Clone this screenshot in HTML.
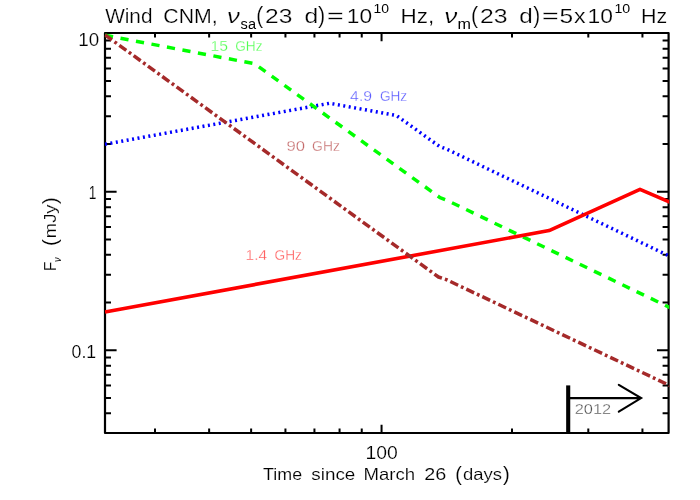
<!DOCTYPE html>
<html lang="en"><head><meta charset="utf-8"><title>Wind CNM light curves</title>
<style>
html,body{margin:0;padding:0;background:#fff;}
body{width:700px;height:500px;overflow:hidden;font-family:"Liberation Sans",sans-serif;}
svg{display:block;will-change:transform;}
text{font-family:"Liberation Sans",sans-serif;}
.k{fill:#000;}
.t{fill:#000;}
.s{fill:#000;}
.lg{fill:#50ff50;}
.lb{fill:#5a5aff;}
.lbr{fill:#c46a6a;}
.lr{fill:#ff5a5a;}
.lk{fill:#505050;}
</style></head><body>
<svg width="700" height="500" viewBox="0 0 700 500">
<defs>
<filter id="nf" filterUnits="userSpaceOnUse" x="0" y="0" width="700" height="500"><feOffset dx="0" dy="0"/></filter>
<clipPath id="cp"><rect x="104.6" y="32" width="564.6" height="402"/></clipPath>
</defs>
<rect x="0" y="0" width="700" height="500" fill="#fff"/>
<rect x="105.00" y="33.00" width="563.60" height="400.00" fill="none" stroke="#000" stroke-width="2.2" stroke-linejoin="round"/>
<path d="M155.00,433.00v-4.40M155.00,33.00v4.40M209.14,433.00v-4.40M209.14,33.00v4.40M251.13,433.00v-4.40M251.13,33.00v4.40M285.44,433.00v-4.40M285.44,33.00v4.40M314.44,433.00v-4.40M314.44,33.00v4.40M339.57,433.00v-4.40M339.57,33.00v4.40M361.74,433.00v-4.40M361.74,33.00v4.40M381.56,433.00v-8.20M381.56,33.00v8.20M512.00,433.00v-4.40M512.00,33.00v4.40M588.30,433.00v-4.40M588.30,33.00v4.40M642.44,433.00v-4.40M642.44,33.00v4.40M105.00,413.37h6.00M668.60,413.37h-6.00M105.00,398.01h6.00M668.60,398.01h-6.00M105.00,385.46h6.00M668.60,385.46h-6.00M105.00,374.85h6.00M668.60,374.85h-6.00M105.00,365.66h6.00M668.60,365.66h-6.00M105.00,357.55h6.00M668.60,357.55h-6.00M105.00,350.30h11.60M668.60,350.30h-11.60M105.00,302.59h6.00M668.60,302.59h-6.00M105.00,274.68h6.00M668.60,274.68h-6.00M105.00,254.87h6.00M668.60,254.87h-6.00M105.00,239.51h6.00M668.60,239.51h-6.00M105.00,226.96h6.00M668.60,226.96h-6.00M105.00,216.35h6.00M668.60,216.35h-6.00M105.00,207.16h6.00M668.60,207.16h-6.00M105.00,199.05h6.00M668.60,199.05h-6.00M105.00,191.80h11.60M668.60,191.80h-11.60M105.00,144.09h6.00M668.60,144.09h-6.00M105.00,116.18h6.00M668.60,116.18h-6.00M105.00,96.37h6.00M668.60,96.37h-6.00M105.00,81.01h6.00M668.60,81.01h-6.00M105.00,68.46h6.00M668.60,68.46h-6.00M105.00,57.85h6.00M668.60,57.85h-6.00M105.00,48.66h6.00M668.60,48.66h-6.00M105.00,40.55h6.00M668.60,40.55h-6.00" stroke="#000" stroke-width="2" fill="none"/>
<path d="M568.2,385.4V433" stroke="#000" stroke-width="4.1" fill="none"/>
<path d="M569,398.1H640.4M618.8,384.9L641.1,398.1L618.8,411.6" stroke="#000" stroke-width="2.1" fill="none" stroke-linejoin="miter" stroke-linecap="round"/>
<g fill="none" stroke-width="3.5" stroke-linejoin="round" clip-path="url(#cp)">
<path d="M105,144.25L329.6,103.25L396.4,115.5L439.45,146.4L447,149.3L668.6,255.7L672,257.3" stroke="#0000ff" stroke-dasharray="2 3.505"/>
<path d="M105,35.3L254.5,63.7L440,197.6L447,200.3L668.6,307L672,308.6" stroke="#00ff00" stroke-dasharray="8.2 7.56"/>
<path d="M105,312L549.1,230.6L640,189.3L668.6,201.6L672,203.1" stroke="#ff0000" stroke-width="3.6"/>
<path d="M105,34.9L438.5,277L446.25,279.6L668.6,385L672,386.6" stroke="#a52a2a" stroke-dasharray="8.6 3.15 2.8 3.15"/>
</g>
<g filter="url(#nf)">
<text class="k" transform="translate(105.15,23.30) scale(0.020)" font-size="1040.0" textLength="2365.5" lengthAdjust="spacingAndGlyphs" stroke="#fff" stroke-width="11.0">Wind</text>
<text class="k" transform="translate(163.28,23.30) scale(0.020)" font-size="1040.0" textLength="2715.6" lengthAdjust="spacingAndGlyphs" stroke="#fff" stroke-width="11.0">CNM,</text>
<text class="k" transform="translate(227.03,23.30) scale(0.020)" font-size="1040.0" textLength="641.9" lengthAdjust="spacingAndGlyphs" stroke="#fff" stroke-width="11.0" font-style="italic">ν</text>
<text class="s" transform="translate(240.62,28.60) scale(0.020)" font-size="700.0" textLength="769.2" lengthAdjust="spacingAndGlyphs">sa</text>
<text class="k" transform="translate(256.32,23.30) scale(0.020)" font-size="1205.0" textLength="347.3" lengthAdjust="spacingAndGlyphs" stroke="#fff" stroke-width="11.0">(</text>
<text class="k" transform="translate(265.02,23.30) scale(0.020)" font-size="1040.0" textLength="1368.1" lengthAdjust="spacingAndGlyphs" stroke="#fff" stroke-width="11.0">23</text>
<text class="k" transform="translate(304.48,23.30) scale(0.020)" font-size="1040.0" textLength="685.7" lengthAdjust="spacingAndGlyphs" stroke="#fff" stroke-width="11.0">d</text>
<text class="k" transform="translate(318.12,23.30) scale(0.020)" font-size="1205.0" textLength="358.6" lengthAdjust="spacingAndGlyphs" stroke="#fff" stroke-width="11.0">)</text>
<text class="k" transform="translate(326.90,23.30) scale(0.020)" font-size="1040.0" textLength="834.4" lengthAdjust="spacingAndGlyphs" stroke="#fff" stroke-width="11.0">=</text>
<text class="k" transform="translate(346.73,23.30) scale(0.020)" font-size="1040.0" textLength="1266.5" lengthAdjust="spacingAndGlyphs" stroke="#fff" stroke-width="11.0">10</text>
<text class="s" transform="translate(373.60,13.00) scale(0.020)" font-size="675.0" textLength="776.2" lengthAdjust="spacingAndGlyphs">10</text>
<text class="k" transform="translate(400.40,23.30) scale(0.020)" font-size="1040.0" textLength="1687.8" lengthAdjust="spacingAndGlyphs" stroke="#fff" stroke-width="11.0">Hz,</text>
<text class="k" transform="translate(444.23,23.30) scale(0.020)" font-size="1040.0" textLength="655.2" lengthAdjust="spacingAndGlyphs" stroke="#fff" stroke-width="11.0" font-style="italic">ν</text>
<text class="s" transform="translate(457.60,28.60) scale(0.020)" font-size="700.0" textLength="672.2" lengthAdjust="spacingAndGlyphs">m</text>
<text class="k" transform="translate(471.12,23.30) scale(0.020)" font-size="1205.0" textLength="358.4" lengthAdjust="spacingAndGlyphs" stroke="#fff" stroke-width="11.0">(</text>
<text class="k" transform="translate(480.02,23.30) scale(0.020)" font-size="1040.0" textLength="1381.2" lengthAdjust="spacingAndGlyphs" stroke="#fff" stroke-width="11.0">23</text>
<text class="k" transform="translate(519.27,23.30) scale(0.020)" font-size="1040.0" textLength="674.0" lengthAdjust="spacingAndGlyphs" stroke="#fff" stroke-width="11.0">d</text>
<text class="k" transform="translate(533.33,23.30) scale(0.020)" font-size="1205.0" textLength="347.3" lengthAdjust="spacingAndGlyphs" stroke="#fff" stroke-width="11.0">)</text>
<text class="k" transform="translate(541.90,23.30) scale(0.020)" font-size="1040.0" textLength="834.4" lengthAdjust="spacingAndGlyphs" stroke="#fff" stroke-width="11.0">=</text>
<text class="k" transform="translate(559.48,23.30) scale(0.020)" font-size="1040.0" textLength="682.6" lengthAdjust="spacingAndGlyphs" stroke="#fff" stroke-width="11.0">5</text>
<text class="k" transform="translate(573.90,23.30) scale(0.020)" font-size="1040.0" textLength="579.6" lengthAdjust="spacingAndGlyphs" stroke="#fff" stroke-width="11.0">x</text>
<text class="k" transform="translate(587.52,23.30) scale(0.020)" font-size="1040.0" textLength="1271.8" lengthAdjust="spacingAndGlyphs" stroke="#fff" stroke-width="11.0">10</text>
<text class="s" transform="translate(614.40,13.00) scale(0.020)" font-size="675.0" textLength="789.4" lengthAdjust="spacingAndGlyphs">10</text>
<text class="k" transform="translate(641.12,23.30) scale(0.020)" font-size="1040.0" textLength="1311.4" lengthAdjust="spacingAndGlyphs" stroke="#fff" stroke-width="11.0">Hz</text>
<text class="t" transform="translate(78.30,45.55) scale(0.020)" font-size="875.0" textLength="1044.1" lengthAdjust="spacingAndGlyphs" stroke="#fff" stroke-width="7.5">10</text>
<text class="t" transform="translate(88.78,198.70) scale(0.020)" font-size="875.0" textLength="380.6" lengthAdjust="spacingAndGlyphs" stroke="#fff" stroke-width="7.5">1</text>
<text class="t" transform="translate(71.55,357.70) scale(0.020)" font-size="875.0" textLength="1231.2" lengthAdjust="spacingAndGlyphs" stroke="#fff" stroke-width="7.5">0.1</text>
<text class="t" transform="translate(365.40,458.50) scale(0.020)" font-size="875.0" textLength="1614.3" lengthAdjust="spacingAndGlyphs" stroke="#fff" stroke-width="7.5">100</text>
<text class="t" transform="translate(263.10,480.10) scale(0.020)" font-size="825.0" textLength="1952.4" lengthAdjust="spacingAndGlyphs" stroke="#fff" stroke-width="7.5">Time</text>
<text class="t" transform="translate(311.27,480.10) scale(0.020)" font-size="825.0" textLength="2202.7" lengthAdjust="spacingAndGlyphs" stroke="#fff" stroke-width="7.5">since</text>
<text class="t" transform="translate(363.48,480.10) scale(0.020)" font-size="825.0" textLength="2583.2" lengthAdjust="spacingAndGlyphs" stroke="#fff" stroke-width="7.5">March</text>
<text class="t" transform="translate(424.27,480.10) scale(0.020)" font-size="825.0" textLength="1103.4" lengthAdjust="spacingAndGlyphs" stroke="#fff" stroke-width="7.5">26</text>
<text class="t" transform="translate(455.15,480.60) scale(0.020)" font-size="985.0" textLength="330.7" lengthAdjust="spacingAndGlyphs" stroke="#fff" stroke-width="7.5">(</text>
<text class="t" transform="translate(462.93,480.10) scale(0.020)" font-size="825.0" textLength="1953.4" lengthAdjust="spacingAndGlyphs" stroke="#fff" stroke-width="7.5">days</text>
<text class="t" transform="translate(503.12,480.60) scale(0.020)" font-size="985.0" textLength="339.0" lengthAdjust="spacingAndGlyphs" stroke="#fff" stroke-width="7.5">)</text>
<text class="lg" transform="translate(210.62,50.70) scale(0.020)" font-size="755.0" textLength="875.6" lengthAdjust="spacingAndGlyphs" stroke="#fff" stroke-width="15.0">15</text>
<text class="lg" transform="translate(235.22,50.70) scale(0.020)" font-size="755.0" textLength="1367.2" lengthAdjust="spacingAndGlyphs" stroke="#fff" stroke-width="15.0">GHz</text>
<text class="lb" transform="translate(350.10,100.70) scale(0.020)" font-size="755.0" textLength="1098.2" lengthAdjust="spacingAndGlyphs" stroke="#fff" stroke-width="15.0">4.9</text>
<text class="lb" transform="translate(379.88,100.70) scale(0.020)" font-size="755.0" textLength="1361.3" lengthAdjust="spacingAndGlyphs" stroke="#fff" stroke-width="15.0">GHz</text>
<text class="lbr" transform="translate(286.40,150.70) scale(0.020)" font-size="755.0" textLength="927.5" lengthAdjust="spacingAndGlyphs" stroke="#fff" stroke-width="15.0">90</text>
<text class="lbr" transform="translate(312.12,150.70) scale(0.020)" font-size="755.0" textLength="1386.3" lengthAdjust="spacingAndGlyphs" stroke="#fff" stroke-width="15.0">GHz</text>
<text class="lr" transform="translate(245.53,260.15) scale(0.020)" font-size="755.0" textLength="1078.1" lengthAdjust="spacingAndGlyphs" stroke="#fff" stroke-width="15.0">1.4</text>
<text class="lr" transform="translate(274.52,260.15) scale(0.020)" font-size="755.0" textLength="1367.6" lengthAdjust="spacingAndGlyphs" stroke="#fff" stroke-width="15.0">GHz</text>
<text class="lk" transform="translate(574.70,414.30) scale(0.020)" font-size="755.0" textLength="1817.6" lengthAdjust="spacingAndGlyphs" stroke="#fff" stroke-width="15.0">2012</text>
<g transform="translate(56.1,270) rotate(-90)">
<text class="t" transform="translate(-1.27,0.00) scale(0.020)" font-size="825.0" textLength="484.6" lengthAdjust="spacingAndGlyphs" stroke="#fff" stroke-width="7.5">F</text>
<text class="s" transform="translate(8.10,4.70) scale(0.020)" font-size="530.0" textLength="233.9" lengthAdjust="spacingAndGlyphs" font-style="italic">ν</text>
<text class="t" transform="translate(23.93,1.00) scale(0.020)" font-size="985.0" textLength="345.1" lengthAdjust="spacingAndGlyphs" stroke="#fff" stroke-width="7.5">(</text>
<text class="t" transform="translate(31.85,0.00) scale(0.020)" font-size="825.0" textLength="1684.6" lengthAdjust="spacingAndGlyphs" stroke="#fff" stroke-width="7.5">mJy</text>
<text class="t" transform="translate(65.72,1.00) scale(0.020)" font-size="985.0" textLength="347.3" lengthAdjust="spacingAndGlyphs" stroke="#fff" stroke-width="7.5">)</text>
</g>
</g>
</svg>
</body></html>
